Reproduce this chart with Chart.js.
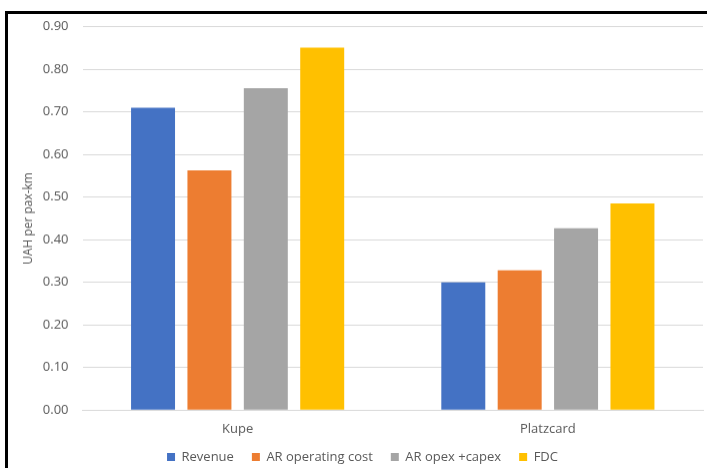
<!DOCTYPE html>
<html lang="en">

<head>
    <meta charset="UTF-8" />
    <title>UAH per pax-km</title>
    <script src="https://cdn.jsdelivr.net/npm/chart.js"></script>
    <style>
        html, body {
            margin: 0;
            padding: 0;
            background: #fff;
            overflow: hidden;
        }

        .moldura {
            position: absolute;
            left: 5px;
            top: 11px;
            width: 702px;
            height: 457px;
            border-left: 3px solid #000;
            border-top: 3px solid #000;
        }

        .grafico-container {
            position: absolute;
            left: 8px;
            top: 14px;
            width: 699px;
            height: 458.5px;
        }
    </style>
</head>

<body>
    <div class="moldura"></div>
    <div class="grafico-container">
        <canvas id="grafico"></canvas>
    </div>

    <script>
        const categorias = ['Kupe', 'Platzcard'];
        const revenue = [0.71, 0.30];
        const arOperatingCost = [0.563, 0.328];
        const arOpexCapex = [0.756, 0.427];
        const fdc = [0.851, 0.485];
        const yTicks = [0, 0.1, 0.2, 0.3, 0.4, 0.5, 0.6, 0.7, 0.8, 0.9];

        const corTexto = '#595959';
        const fonte = 'Open Sans';

        // empurra a legenda um pouco para a direita, como no original
        const ajusteLegenda = {
            id: 'ajusteLegenda',
            afterLayout(chart) {
                chart.legend.left += 7;
                chart.legend.right += 7;
            }
        };

        const ctx = document.getElementById('grafico').getContext('2d');

        new Chart(ctx, {
            type: 'bar',
            data: {
                labels: categorias,
                datasets: [
                    { label: 'Revenue', data: revenue, backgroundColor: '#4472C4' },
                    { label: 'AR operating cost', data: arOperatingCost, backgroundColor: '#ED7D31' },
                    { label: 'AR opex +capex', data: arOpexCapex, backgroundColor: '#A5A5A5' },
                    { label: 'FDC', data: fdc, backgroundColor: '#FFC000' }
                ]
            },
            plugins: [ajusteLegenda],
            options: {
                responsive: true,
                maintainAspectRatio: false,
                animation: false,
                datasets: {
                    bar: {
                        categoryPercentage: 0.727,
                        barPercentage: 0.78
                    }
                },
                layout: {
                    padding: { top: 12.7, right: 4, left: 0, bottom: 0 }
                },
                scales: {
                    x: {
                        grid: { display: false, drawTicks: false },
                        border: { color: '#D9D9D9', width: 1 },
                        afterFit: (scale) => {
                            scale.height = 22.2;
                            // sem recorte dos rótulos na caixa do eixo
                            scale._computeLabelArea = () => null;
                        },
                        ticks: {
                            color: corTexto,
                            padding: 11,
                            font: { family: fonte, size: 13 }
                        }
                    },
                    y: {
                        min: 0,
                        max: 0.9,
                        afterBuildTicks: (scale) => {
                            scale.ticks = yTicks.map(v => ({ value: v }));
                        },
                        afterFit: (scale) => {
                            scale.width = 74.5;
                            scale.paddingTop = 0;
                            scale.paddingBottom = 0;
                        },
                        border: { display: false },
                        grid: {
                            color: '#D9D9D9',
                            drawTicks: false
                        },
                        ticks: {
                            color: corTexto,
                            padding: 14,
                            font: { family: fonte, size: 13 },
                            callback: (v) => Number(v).toFixed(2)
                        },
                        title: {
                            display: true,
                            text: 'UAH per pax-km',
                            color: corTexto,
                            padding: { top: 13, bottom: 0 },
                            font: { family: fonte, size: 12 }
                        }
                    }
                },
                plugins: {
                    legend: {
                        position: 'bottom',
                        labels: {
                            color: corTexto,
                            boxWidth: 8,
                            boxHeight: 8,
                            padding: 18,
                            font: { family: fonte, size: 13 }
                        }
                    },
                    tooltip: { enabled: false }
                }
            }
        });
    </script>
</body>

</html>
